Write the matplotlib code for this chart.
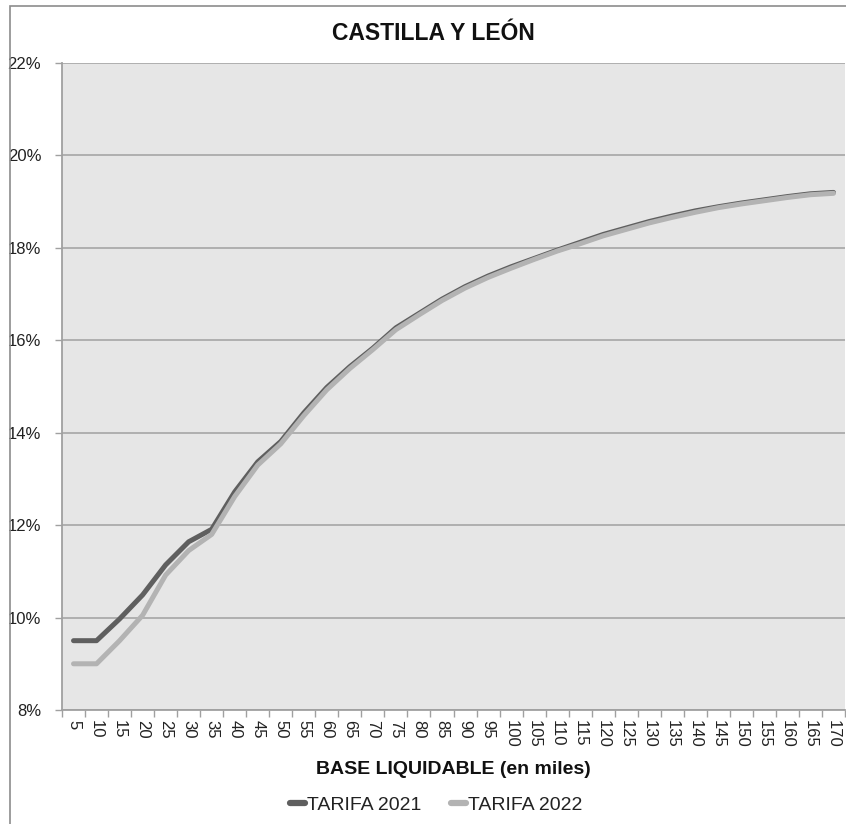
import matplotlib
matplotlib.use("Agg")
import matplotlib.pyplot as plt
from matplotlib.patches import Rectangle
from matplotlib.ticker import FixedLocator, FuncFormatter
import matplotlib.font_manager as fm

names = {f.name for f in fm.fontManager.ttflist}
FONT = "Liberation Sans Narrow" if "Liberation Sans Narrow" in names else "Liberation Sans"
plt.rcParams["font.family"] = [FONT, "DejaVu Sans"]

categories = [str(v) for v in range(5, 171, 5)]
tarifa_2021 = [9.50, 9.50, 9.97, 10.49, 11.14, 11.64, 11.91, 12.72, 13.37, 13.81,
               14.43, 14.98, 15.43, 15.83, 16.27, 16.58, 16.89, 17.16, 17.39, 17.59,
               17.77, 17.95, 18.12, 18.29, 18.43, 18.57, 18.69, 18.80, 18.89, 18.97,
               19.04, 19.11, 19.17, 19.20]
tarifa_2022 = [9.00, 9.00, 9.50, 10.05, 10.92, 11.45, 11.80, 12.62, 13.30, 13.76,
               14.37, 14.93, 15.39, 15.80, 16.23, 16.55, 16.86, 17.13, 17.36, 17.56,
               17.75, 17.93, 18.09, 18.26, 18.40, 18.54, 18.66, 18.77, 18.87, 18.95,
               19.02, 19.09, 19.15, 19.18]
y_ticks = [8, 10, 12, 14, 16, 18, 20, 22]

fig = plt.figure(figsize=(8.46, 8.24), dpi=100)
fig.patch.set_facecolor("white")
fig.patches.append(Rectangle((10 / 846, -0.05), 1.2, 1 - 6 / 824 + 0.05,
                             transform=fig.transFigure, fill=False,
                             edgecolor="#8c8c8c", linewidth=1.2))

ax = fig.add_axes([62 / 846, 1 - 710 / 824, (845 - 62) / 846, (710 - 63) / 824])
ax.set_facecolor("#e6e6e6")

x = list(range(len(categories)))
ax.plot(x, tarifa_2021, color="#5f5f5f", linewidth=3.6, solid_capstyle="round",
        label="TARIFA 2021", zorder=3)
ax.plot(x, tarifa_2022, color="#b3b3b3", linewidth=3.6, solid_capstyle="round",
        label="TARIFA 2022", zorder=3)

ax.set_xlim(-0.5, len(categories) - 0.5)
ax.set_ylim(8, 22)
ax.set_yticks(y_ticks)
ax.yaxis.set_major_formatter(FuncFormatter(lambda v, p: f"{v:.0f}%"))
ax.yaxis.grid(True, color="#ababab", linewidth=1.3)
ax.set_axisbelow(True)

ax.set_xticks(x)
ax.set_xticklabels(categories, rotation=-90, fontsize=12, color="#222222")
ax.xaxis.set_minor_locator(FixedLocator([i - 0.5 for i in range(len(categories) + 1)]))
ax.tick_params(axis="x", which="major", length=0, pad=7)
ax.tick_params(axis="x", which="minor", length=5, color="#a0a0a0", width=1)
ax.tick_params(axis="y", length=5, color="#a0a0a0", width=1, pad=10,
               labelsize=12, labelcolor="#222222")

for s in ["top", "right"]:
    ax.spines[s].set_visible(False)
for s in ["left", "bottom"]:
    ax.spines[s].set_color("#a0a0a0")
    ax.spines[s].set_linewidth(1.3)

fig.text(433 / 846, 1 - 33 / 824, "CASTILLA Y LEÓN", ha="center", va="center",
         fontsize=16.5, fontweight="bold", color="#111111")
fig.text(453 / 846, 1 - 769 / 824, "BASE LIQUIDABLE (en miles)", ha="center",
         va="center", fontsize=14, fontweight="bold", color="#111111")

leg = fig.legend(loc="center", bbox_to_anchor=(436 / 846, 1 - 805 / 824), ncol=2,
                 frameon=False, fontsize=14, handlelength=0.8, handletextpad=0.1,
                 columnspacing=1.5)
for line in leg.get_lines():
    line.set_linewidth(4.5)
for t in leg.get_texts():
    t.set_color("#222222")

fig.savefig("out.png", dpi=100)
